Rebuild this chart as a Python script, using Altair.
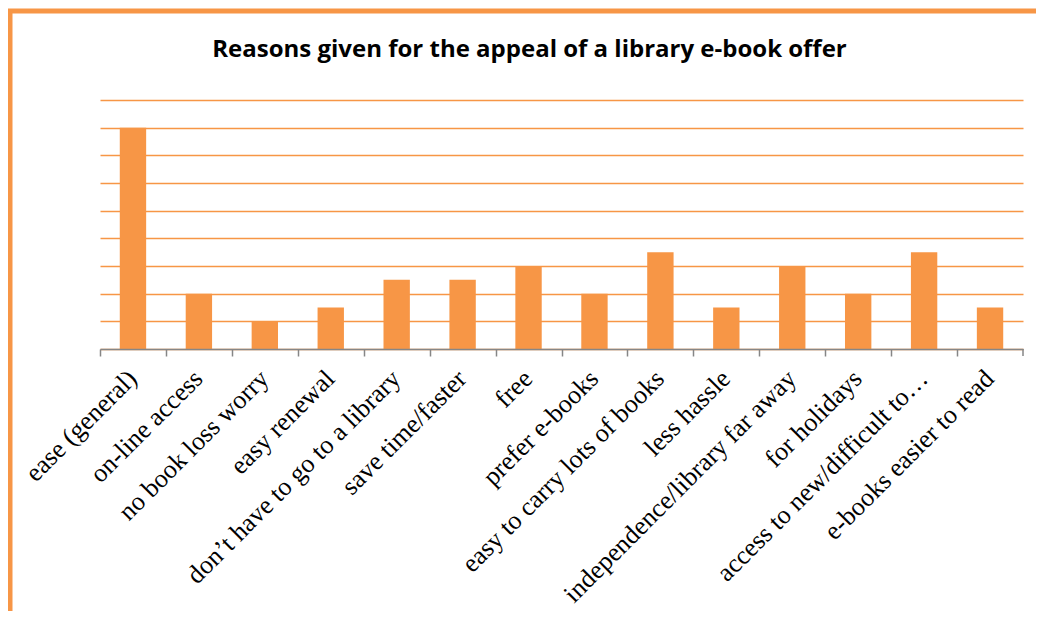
import altair as alt
import pandas as pd

# ---- data ----
categories = [
    "ease (general)",
    "on-line access",
    "no book loss worry",
    "easy renewal",
    "don\u2019t have to go to a library",
    "save time/faster",
    "free",
    "prefer e-books",
    "easy to carry lots of books",
    "less hassle",
    "independence/library far away",
    "for holidays",
    "access to new/difficult to\u2026",
    "e-books easier to read",
]
values = [16, 4, 2, 3, 5, 5, 6, 4, 7, 3, 6, 4, 7, 3]
y_ticks = [0, 2, 4, 6, 8, 10, 12, 14, 16, 18]
title_text = "Reasons given for the appeal of a library e-book offer"

df = pd.DataFrame({"reason": categories, "count": values})
one = pd.DataFrame({"k": [0]})

W, H = 923, 249
STEP = W / len(categories)
ORANGE = "#F79646"
GREY = "#868686"

bars = alt.Chart(df).mark_bar(color=ORANGE).encode(
    x=alt.X(
        "reason:N",
        sort=categories,
        title=None,
        scale=alt.Scale(paddingInner=0.6, paddingOuter=0.3),
        axis=alt.Axis(
            labelAngle=-45,
            labelFont="Liberation Serif",
            labelFontSize=26,
            labelColor="#000000",
            labelPadding=9,
            labelLimit=0,
            tickSize=7,
            tickColor=GREY,
            tickWidth=1.5,
            domainColor=GREY,
            domainWidth=1.5,
            tickOffset=-STEP / 2,
            labelOffset=STEP / 2 - 10,
            grid=False,
            zindex=1,
        ),
    ),
    y=alt.Y(
        "count:Q",
        title=None,
        scale=alt.Scale(domain=[0, 18], nice=False),
        axis=alt.Axis(
            values=y_ticks,
            labels=False,
            ticks=False,
            domain=False,
            grid=True,
            gridColor=ORANGE,
            gridWidth=1.5,
        ),
    ),
)

end_tick = alt.Chart(one).mark_rule(color=GREY, strokeWidth=1.5).encode(
    x=alt.value(W), y=alt.value(H), y2=alt.value(H + 7)
)
frame_left = alt.Chart(one).mark_rule(color=ORANGE, strokeWidth=5).encode(
    x=alt.value(-90), y=alt.value(-89), y2=alt.value(H + 300)
)
frame_top = alt.Chart(one).mark_rule(color=ORANGE, strokeWidth=5, strokeCap="square").encode(
    y=alt.value(-89), x=alt.value(-90), x2=alt.value(W + 60)
)

chart = (
    alt.layer(bars, end_tick, frame_left, frame_top)
    .properties(
        width=W,
        height=H,
        autosize="none",
        padding={"left": 92, "top": 92, "right": 13, "bottom": 262},
        title=alt.TitleParams(
            text=title_text,
            font="Open Sans",
            fontSize=24,
            fontWeight="bold",
            color="#000000",
            anchor="middle",
            frame="group",
            baseline="alphabetic",
            dx=-32,
            offset=-74,
        ),
    )
    .configure_view(stroke=None)
)

chart.save("out.html", embed_options={"renderer": "svg", "actions": False})
